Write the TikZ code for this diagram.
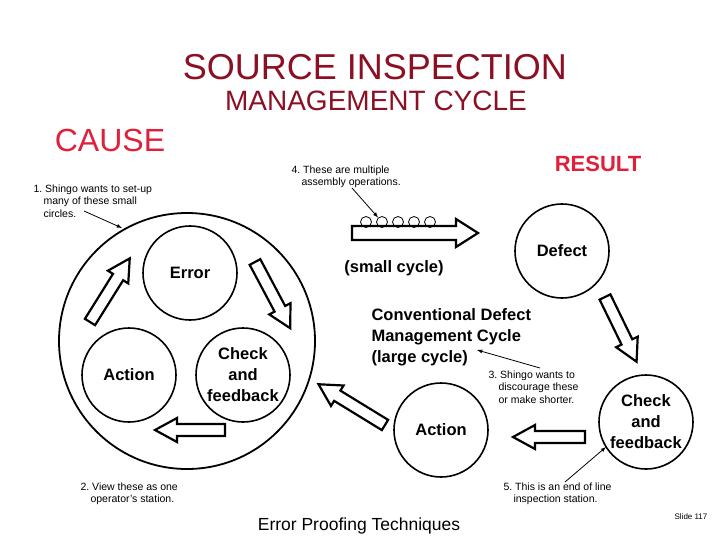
\documentclass[tikz,border=0pt]{standalone}
\usepackage{fontspec}
\setmainfont{Liberation Sans}
\definecolor{dred}{HTML}{8B1024}
\definecolor{bred}{HTML}{E0203A}
\newcommand\barrow[5]{\begin{scope}[shift={(#1,#2)},rotate=-#3]
\draw[line width=2.2pt,fill=white] (0,-#5)--(#4-22,-#5)--(#4-22,-2*#5)--(#4,0)--(#4-22,2*#5)--(#4-22,#5)--(0,#5)--cycle;
\end{scope}}
\begin{document}
\begin{tikzpicture}[x=1pt,y=-1pt,
 circ/.style={draw,circle,line width=1.6pt,minimum size=94pt,inner sep=0pt},
 lbl/.style={font=\bfseries\fontsize{16.5}{21}\selectfont,align=center},
 note/.style={font=\fontsize{10.5}{12.5}\selectfont,align=left},
 ptr/.style={-latex,line width=0.8pt}]
\useasboundingbox (0,0) rectangle (720,540);
\node[font=\fontsize{36}{40}\selectfont,text=dred] (t1) at (375,67) {SOURCE INSPECTION};
\node[font=\fontsize{28}{32}\selectfont,text=dred] (t2) at (376,101) {MANAGEMENT CYCLE};
\node[font=\fontsize{32}{36}\selectfont,text=bred] (cause) at (110,140) {CAUSE};
\node[font=\bfseries\fontsize{22}{26}\selectfont,text=bred] (result) at (598,164) {RESULT};
% small cycle
\node[circ,minimum size=256pt,line width=1.8pt] (big) at (187,341) {};
\node[circ,lbl] (err) at (190,273) {Error};
\node[circ,lbl] (act) at (129,375) {Action};
\node[circ,lbl] (chk) at (243,375) {Check\\and\\feedback};
\barrow{90}{322}{-58}{75}{6}
\barrow{255}{262}{62}{75}{6}
\barrow{225}{430}{180}{70}{6}
% large cycle
\node[circ,lbl] (def) at (562,251) {Defect};
\node[circ,lbl] (chk2) at (646,422) {Check\\and\\feedback};
\node[circ,lbl] (act2) at (441,430) {Action};
\barrow{605}{297}{64}{72}{6}
\barrow{585}{437}{180}{72}{6}
\barrow{385}{425}{211.5}{78}{6}
\barrow{352}{233}{0}{126}{7}
\foreach \i in {0,...,4} \node[draw,circle,line width=0.8pt,minimum size=11pt,inner sep=0pt] (s\i) at (366+16*\i,222) {};
\node[lbl] (sc) at (394,268) {(small cycle)};
\node[lbl,align=left,anchor=north west] (conv) at (368,305) {Conventional Defect\\Management Cycle\\(large cycle)};
% notes
\node[note,anchor=north west] (n1) at (30,181) {1.\ Shingo wants to set-up\\\hspace*{10pt}many of these small\\\hspace*{10pt}circles.};
\coordinate (p1) at (122,228);
\draw[ptr] (84,211) -- (p1);
\node[note,anchor=north west] (n4) at (288,162) {4.\ These are multiple\\\hspace*{10pt}assembly operations.};
\draw[ptr] (352,188) -- (s1);
\node[note,anchor=north west] (n3) at (485,367) {3.\ Shingo wants to\\\hspace*{10pt}discourage these\\\hspace*{10pt}or make shorter.};
\coordinate (p3) at (477,350);
\draw[ptr] (540,368) -- (p3);
\node[note,anchor=north west] (n2) at (77,479) {2.\ View these as one\\\hspace*{10pt}operator's station.};
\node[note,anchor=north west] (n5) at (500,479) {5.\ This is an end of line\\\hspace*{10pt}inspection station.};
\coordinate (p5) at (606,447);
\draw[ptr] (565,482) -- (p5);
\node[font=\fontsize{17.5}{20}\selectfont] (ept) at (359,526) {Error Proofing Techniques};
\node[font=\fontsize{8}{9}\selectfont] (sl) at (691,517) {Slide 117};
\end{tikzpicture}
\end{document}
